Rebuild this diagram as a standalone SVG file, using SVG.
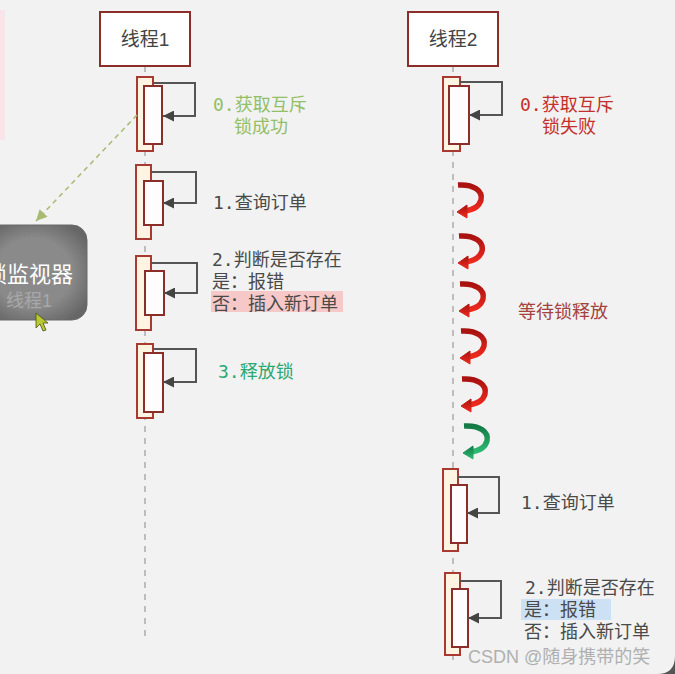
<svg xmlns="http://www.w3.org/2000/svg" width="675" height="674" viewBox="0 0 675 674">
<style>
.head{fill:#ffffff;stroke:#8b2e2a;stroke-width:2}
.title{font-family:"Liberation Sans","Noto Sans CJK SC",sans-serif;font-size:19px;fill:#444;text-anchor:middle}
.life{stroke:#bdbdbd;stroke-width:2;stroke-dasharray:6 6;fill:none}
.outer{fill:#fff4e2;stroke:#a93a32;stroke-width:2}
.inner{fill:#fefcfc;stroke:#8b2e2a;stroke-width:2}
.self{fill:none;stroke:#555;stroke-width:2;marker-end:url(#ah)}
.lbl{font-family:"DejaVu Sans Mono","Noto Sans CJK SC",monospace;font-size:18px;fill:#4a4a4a}
.ok{fill:#93bf66}
.fail{fill:#c4302b}
.rel{fill:#2ba874}
.wait{font-family:"Noto Sans CJK SC",sans-serif;font-size:18px;fill:#a3433f}
</style>
<defs>
<marker id="ah" viewBox="0 0 10 10" refX="10" refY="5" markerWidth="12" markerHeight="11" markerUnits="userSpaceOnUse" orient="auto">
<path d="M0,0 L10,5 L0,10 z" fill="#444"/>
</marker>
<marker id="gh" viewBox="0 0 10 10" refX="10" refY="5" markerWidth="12" markerHeight="11" markerUnits="userSpaceOnUse" orient="auto">
<path d="M0,0 L10,5 L0,10 z" fill="#a9ba72"/>
</marker>
<linearGradient id="rg" x1="0" y1="0" x2="0" y2="1">
<stop offset="0" stop-color="#a8120f"/><stop offset="1" stop-color="#ee2a1f"/>
</linearGradient>
<linearGradient id="gg" x1="0" y1="0" x2="0" y2="1">
<stop offset="0" stop-color="#137a45"/><stop offset="1" stop-color="#2dbb72"/>
</linearGradient>
<radialGradient id="mg" cx="0.5" cy="0.5" r="0.6">
<stop offset="0.6" stop-color="#8a8a8a"/><stop offset="1" stop-color="#666"/>
</radialGradient>
<g id="curl">
<path d="M1,3 C17,2 26,9 24,18 C22,25 15,28 8,29" fill="none" stroke-width="5.5"/>
<polygon points="0,30 10,23 10,36"/>
</g>
</defs>
<rect width="675" height="674" fill="#f2f2f2"/>
<rect x="0" y="10" width="5" height="130" fill="#f9e4ea"/>
<path d="M675,656 Q675,674 657,674 L675,674 Z" fill="#555"/>

<g id="lifelines">
<line class="life" x1="145" y1="66" x2="145" y2="638"/>
<line class="life" x1="453" y1="66" x2="453" y2="664"/>
</g>

<g id="thread1">
<rect class="head" x="100" y="12" width="90" height="54"/>
<text class="title" x="145" y="46">线程1</text>
</g>
<g id="thread2">
<rect class="head" x="408" y="12" width="90" height="54"/>
<text class="title" x="453" y="46">线程2</text>
</g>

<g id="t1-step0">
<rect class="outer" x="137" y="77" width="16" height="74"/>
<rect class="inner" x="144" y="86" width="18" height="58"/>
<text class="lbl ok" x="213" y="111">0.获取互斥</text>
<text class="lbl ok" x="261" y="133" text-anchor="middle">锁成功</text>
</g>
<g id="t1-step1">
<rect class="outer" x="136" y="165" width="15" height="74"/>
<rect class="inner" x="144" y="181" width="19" height="44"/>
<text class="lbl" x="213" y="209">1.查询订单</text>
</g>
<g id="t1-step2">
<rect class="outer" x="136" y="256" width="15" height="74"/>
<rect class="inner" x="145" y="271" width="19" height="44"/>
<rect x="211" y="291" width="132" height="21" fill="#f6c8c8"/>
<text class="lbl" x="212" y="266">2.判断是否存在</text>
<text class="lbl" x="212" y="288">是：报错</text>
<text class="lbl" x="212" y="310">否：插入新订单</text>
</g>
<g id="t1-step3">
<rect class="outer" x="137" y="344" width="16" height="74"/>
<rect class="inner" x="144" y="353" width="19" height="59"/>
<text class="lbl rel" x="218" y="378">3.释放锁</text>
</g>

<g id="t2-step0">
<rect class="outer" x="443" y="77" width="17" height="74"/>
<rect class="inner" x="449" y="86" width="20" height="58"/>
<text class="lbl fail" x="520" y="111">0.获取互斥</text>
<text class="lbl fail" x="569" y="133" text-anchor="middle">锁失败</text>
</g>
<g id="t2-wait">
<text class="wait" x="518" y="318">等待锁释放</text>
</g>
<g id="t2-step1">
<rect class="outer" x="443" y="469" width="15" height="82"/>
<rect class="inner" x="451" y="485" width="16" height="58"/>
<text class="lbl" x="521" y="509">1.查询订单</text>
</g>
<g id="t2-step2">
<rect class="outer" x="445" y="573" width="15" height="82"/>
<rect class="inner" x="452" y="589" width="16" height="58"/>
<rect x="521" y="599" width="90" height="21" fill="#cde1f5"/>
<text class="lbl" x="525" y="594">2.判断是否存在</text>
<text class="lbl" x="524" y="616">是：报错</text>
<text class="lbl" x="524" y="638">否：插入新订单</text>
</g>

<g id="monitor">
<rect x="-20" y="225" width="107" height="95" rx="15" fill="url(#mg)" stroke="#6a6a6a" stroke-width="1"/>
<text x="73" y="282" text-anchor="end" font-family="Noto Sans CJK SC,sans-serif" font-size="22" fill="#ffffff">锁监视器</text>
<text x="6" y="307" font-family="Liberation Sans,Noto Sans CJK SC,sans-serif" font-size="18" fill="#a8a8a8">线程1</text>
</g>

<g id="connectors">
<path class="self" d="M153,83 H195 V116 H163"/>
<path class="self" d="M151,172 H196 V203 H163"/>
<path class="self" d="M151,263 H197 V293 H164"/>
<path class="self" d="M153,349 H196 V382 H163"/>
<path class="self" d="M460,82 H502 V115 H469"/>
<path class="self" d="M458,477 H499 V513 H467"/>
<path class="self" d="M460,581 H501 V618 H468"/>
<line x1="137" y1="115" x2="36" y2="221" stroke="#a9ba72" stroke-width="1.5" stroke-dasharray="5 4" marker-end="url(#gh)"/>
<use href="#curl" x="457" y="182" fill="url(#rg)" stroke="url(#rg)"/>
<use href="#curl" x="458" y="233" fill="url(#rg)" stroke="url(#rg)"/>
<use href="#curl" x="459" y="281" fill="url(#rg)" stroke="url(#rg)"/>
<use href="#curl" x="460" y="328" fill="url(#rg)" stroke="url(#rg)"/>
<use href="#curl" x="461" y="376" fill="url(#rg)" stroke="url(#rg)"/>
<use href="#curl" x="463" y="423" fill="url(#gg)" stroke="url(#gg)"/>
</g>

<path d="M36,313 L36,328 L40,324 L43,331 L46,330 L43,323 L48,323 Z" fill="#b9c934" stroke="#4a5010" stroke-width="0.8"/>
<text x="468" y="663" font-family="Liberation Sans,Noto Sans CJK SC,sans-serif" font-size="18" fill="#b0b0b0">CSDN @随身携带的笑</text>
</svg>
